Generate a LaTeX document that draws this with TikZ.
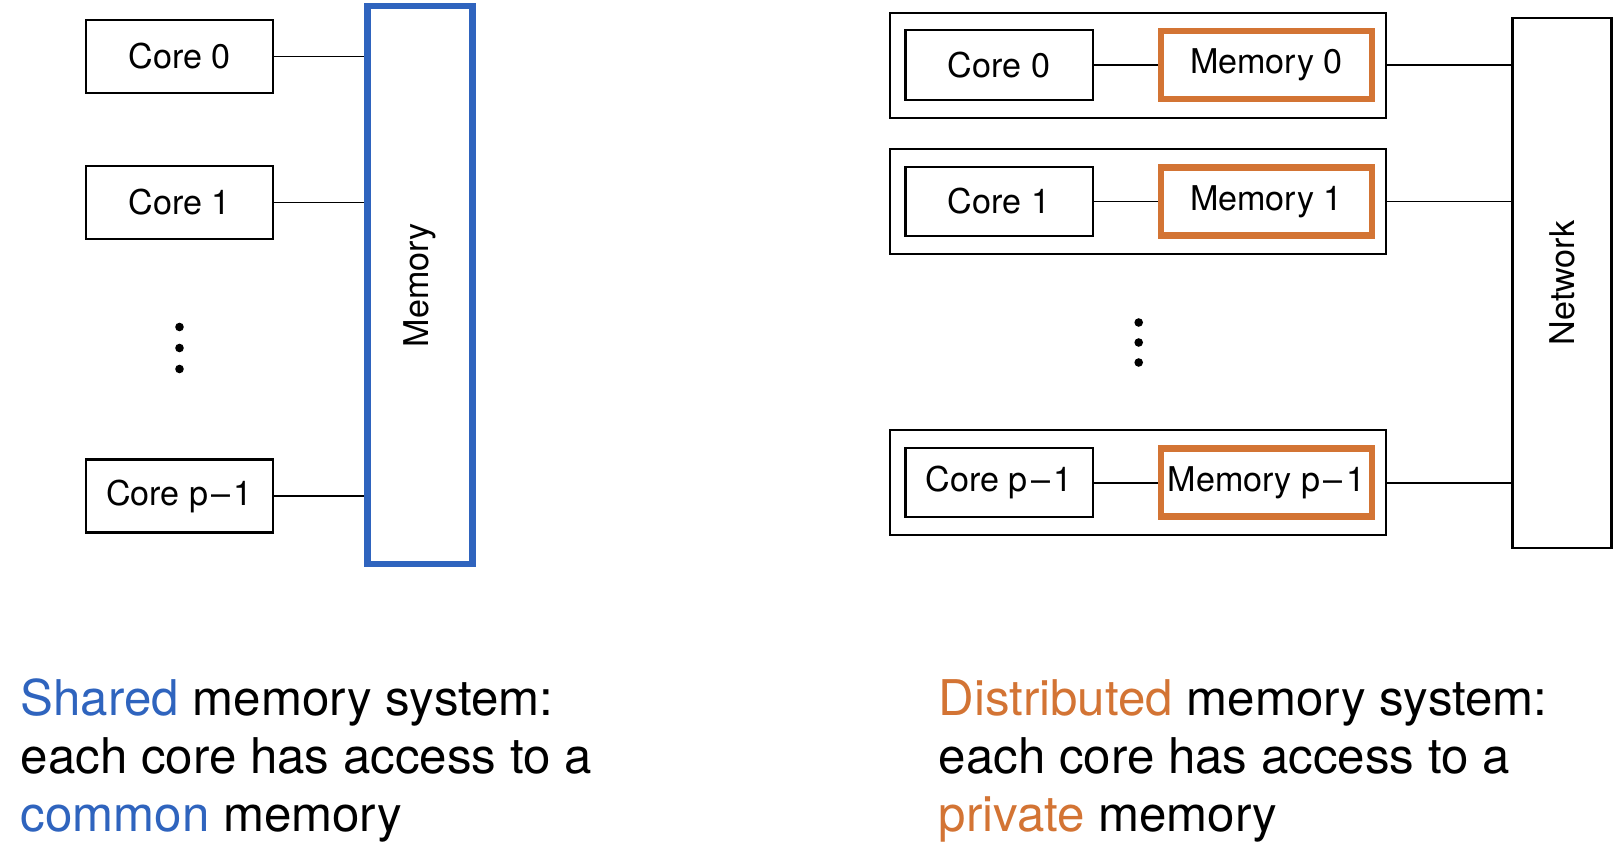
\documentclass[tikz,border=0pt]{standalone}
\usepackage{fontspec}
\setmainfont{TeX Gyre Heros}
\definecolor{sharedblue}{RGB}{47,100,190}
\definecolor{privorange}{RGB}{211,116,52}
\newcommand{\boxfont}{\fontsize{9.7}{11.6}\selectfont}
\newcommand{\capfont}{\fontsize{14}{16.8}\selectfont}
\newcommand{\pminus}{p\kern.1em--\kern.1em1}

\begin{document}
\begin{tikzpicture}[x = 0.01cm, y = -0.01cm]
  \tikzset{core/.style = {draw, line width = 0.6pt, minimum width = 1.87cm,
      minimum height = 0.73cm, inner sep = 0pt, font = \boxfont},
    unit/.style = {draw, line width = 0.6pt, minimum width = 4.96cm,
      minimum height = 1.05cm, inner sep = 0pt},
    privmem/.style = {draw = privorange, line width = 1.8pt, minimum width = 2.11cm,
      minimum height = 0.68cm, inner sep = 0pt, font = \boxfont},
    bus/.style = {rotate = 90, inner sep = 0pt, font = \boxfont},
    dot/.style = {circle, fill, inner sep = 0pt, minimum size = 0.086cm},
    wire/.style = {line width = 0.55pt},
    caption/.style = {anchor = base west, inner sep = 0pt, font = \capfont}}
  \useasboundingbox (0,0) rectangle (1624,858);
  % shared memory system
  \node[bus, draw = sharedblue, line width = 1.8pt, minimum width = 5.58cm,
    minimum height = 1.05cm] (mem) at (420,285) {Memory};
  \node[core] (c0) at (179.5,56.5) {Core 0};
  \node[core] (c1) at (179.5,202.5) {Core 1};
  \node[core] (cp) at (179.5,496) {Core \pminus};
  \node[dot] (ld1) at (179.5,327) {};
  \node[dot] (ld2) at (179.5,348) {};
  \node[dot] (ld3) at (179.5,369) {};
  \draw[wire] (c0) -- (c0 -| mem.north);
  \draw[wire] (c1) -- (c1 -| mem.north);
  \draw[wire] (cp) -- (cp -| mem.north);
  % distributed memory system
  \node[bus, draw, line width = 0.6pt, minimum width = 5.29cm,
    minimum height = 0.99cm] (net) at (1562,283) {Network};
  \node[unit] (u0) at (1137.8,65.2) {};
  \node[unit] (u1) at (1137.8,201.5) {};
  \node[unit] (up) at (1137.8,482.6) {};
  \node[core, minimum height = 0.695cm] (dc0) at (999,65.2) {Core 0};
  \node[core, minimum height = 0.695cm] (dc1) at (999,201.5) {Core 1};
  \node[core, minimum height = 0.695cm] (dcp) at (999,482.6) {Core \pminus};
  \node[privmem] (dm0) at (1266.4,65.2) {Memory 0};
  \node[privmem] (dm1) at (1266.4,201.5) {Memory 1};
  \node[privmem] (dmp) at (1266.4,482.6) {Memory \pminus};
  \node[dot] (rd1) at (1138.7,322.5) {};
  \node[dot] (rd2) at (1138.7,342.5) {};
  \node[dot] (rd3) at (1138.7,362.5) {};
  \draw[wire] (dc0) -- (dm0);
  \draw[wire] (dc1) -- (dm1);
  \draw[wire] (dcp) -- (dmp);
  \draw[wire] (u0) -- (u0 -| net.north);
  \draw[wire] (u1) -- (u1 -| net.north);
  \draw[wire] (up) -- (up -| net.north);
  % captions
  \node[caption] (lcap1) at (20,715) {\textcolor{sharedblue}{Shared} memory system:};
  \node[caption] (lcap2) at (20,773) {each core has access to a};
  \node[caption] (lcap3) at (20,831) {\textcolor{sharedblue}{common} memory};
  \node[caption] (rcap1) at (938,715) {\textcolor{privorange}{Distributed} memory system:};
  \node[caption] (rcap2) at (938,773) {each core has access to a};
  \node[caption] (rcap3) at (938,831) {\textcolor{privorange}{private} memory};
\end{tikzpicture}
\end{document}
